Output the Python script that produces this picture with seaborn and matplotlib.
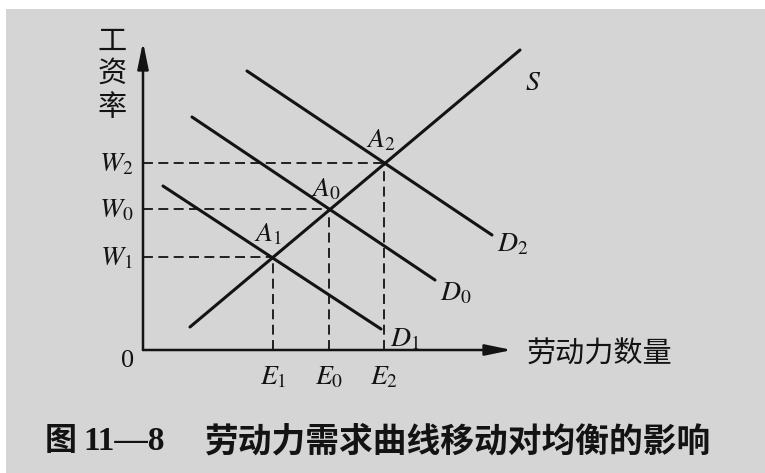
import matplotlib
matplotlib.use('Agg')
import matplotlib.pyplot as plt
import seaborn as sns
import pandas as pd

# ---- data (diagram units, origin at the axes corner) ----
curve_names = ['S', 'D1', 'D0', 'D2']
curve_x = [[4.7, 37.7], [2.0, 23.8], [4.9, 29.2], [10.4, 34.9]]
curve_y = [[2.3, 30.0], [16.4, 2.1], [23.3, 7.0], [27.9, 11.5]]

eq_names = ['1', '0', '2']
eq_q = [13.0, 18.6, 24.1]     # E1, E0, E2
eq_w = [9.3, 14.1, 18.7]      # W1, W0, W2

axis_x_max = 36.9
axis_y_max = 30.8

curve_labels = {'S': (39.0, 26.8, r'$S$'),
                'D1': (26.2, 1.2, r'$D_1$'),
                'D0': (31.3, 5.8, r'$D_0$'),
                'D2': (37.0, 10.7, r'$D_2$')}
a_offset_x = [-0.5, -0.3, -0.3]
a_offset_y = [2.4, 2.1, 2.4]

y_title = ['工', '资', '率']
y_title_pos = [30.8, 27.6, 24.2]
x_title = '劳动力数量'
caption_num = '11—8'
caption_text = '劳动力需求曲线移动对均衡的影响'

# ---- style ----
sns.set_style('white')
plt.rcParams['font.family'] = ['Noto Sans CJK SC', 'DejaVu Sans']
plt.rcParams['mathtext.fontset'] = 'stix'

ink = '#131313'
bg = '#d5d5d5'

fig = plt.figure(figsize=(7.65, 4.73), dpi=100, facecolor='white')
ax = fig.add_axes([6 / 765, 0, 759 / 765, 464 / 473])
ax.set_facecolor(bg)
ax.set_xlim(-13.7, 62.2)
ax.set_ylim(-12.3, 34.1)
for s in ax.spines.values():
    s.set_visible(False)
ax.set_xticks([])
ax.set_yticks([])

# supply / demand lines
rows = []
for name, xs, ys in zip(curve_names, curve_x, curve_y):
    for x, y in zip(xs, ys):
        rows.append({'curve': name, 'q': x, 'w': y})
df = pd.DataFrame(rows)
sns.lineplot(data=df, x='q', y='w', units='curve', estimator=None,
             color=ink, lw=2.2, ax=ax, sort=False)

# dashed guides
ax.hlines(eq_w, 0, eq_q, colors=ink, lw=1.3, linestyles=(0, (5.5, 3.0)))
ax.vlines(eq_q, 0, eq_w, colors=ink, lw=1.3, linestyles=(0, (5.5, 3.0)))

# axes with arrows
arrow = dict(arrowstyle='-|>,head_length=1.6,head_width=0.33', lw=1.8,
             color=ink, shrinkA=0, shrinkB=0, mutation_scale=10)
ax.annotate('', xy=(axis_x_max, 0), xytext=(0, 0), arrowprops=arrow)
ax.annotate('', xy=(0, axis_y_max), xytext=(0, 0), arrowprops=arrow)

# labels
for n, q, w, dx, dy in zip(eq_names, eq_q, eq_w, a_offset_x, a_offset_y):
    ax.text(-1.0, w, r'$W_%s$' % n, ha='right', va='center', fontsize=20, color=ink)
    ax.text(q, -2.6, r'$E_%s$' % n, ha='center', va='center', fontsize=20, color=ink)
    ax.text(q + dx, w + dy, r'$A_%s$' % n, ha='center', va='center', fontsize=20, color=ink)

for name in curve_names:
    x, y, t = curve_labels[name]
    ax.text(x, y, t, ha='center', va='center', fontsize=20, color=ink)

ax.text(-1.5, -1.1, '0', ha='center', va='center', fontsize=19, color=ink,
        family='Liberation Serif')

for ch, y in zip(y_title, y_title_pos):
    ax.text(-3.1, y, ch, ha='center', va='center', fontsize=21, color=ink)
ax.text(38.4, -0.5, x_title, ha='left', va='center', fontsize=21, color=ink)

# caption
ax.text(-9.8, -9.1, '图', ha='left', va='center', fontsize=23, color=ink,
        fontweight='bold')
ax.text(-6.0, -9.1, caption_num, ha='left', va='center', fontsize=24, color=ink,
        fontweight='bold', family='Liberation Serif')
ax.text(6.2, -9.1, caption_text, ha='left', va='center', fontsize=24.3, color=ink,
        fontweight='bold')

fig.savefig('out.png', dpi=100, facecolor='white')
